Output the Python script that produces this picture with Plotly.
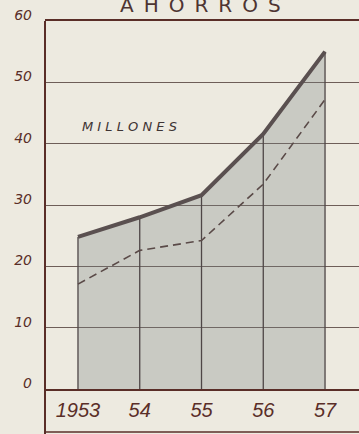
"""Ahorros 1953-57 (millones), recreated with Plotly."""

import plotly.graph_objects as go

YEARS = [1953, 1954, 1955, 1956, 1957]
YEAR_LABELS = ["1953", "54", "55", "56", "57"]
SAVINGS = [24.8, 28.0, 31.6, 41.6, 55.0]
SAVINGS_DASHED = [17.1, 22.6, 24.2, 33.4, 47.2]
Y_TICKS = [0, 10, 20, 30, 40, 50, 60]
Y_LABELS = ["0", "10", "20", "30", "40", "50", "60"]

BG = "#EDEAE0"
INK = "#5A2E28"
GRID = "#6E5E58"
LINE = "#5A5050"

fig = go.Figure()

# shaded area under the main series
fig.add_trace(go.Scatter(
    x=YEARS, y=SAVINGS, mode="lines", fill="tozeroy",
    fillcolor="rgba(118,128,130,0.30)", line={"width": 0},
    hoverinfo="skip",
))

# vertical drop lines at each year
vx, vy = [], []
for x, v in zip(YEARS, SAVINGS):
    vx += [x, x, None]
    vy += [0, v, None]
fig.add_trace(go.Scatter(
    x=vx, y=vy, mode="lines", line={"color": "#4E4646", "width": 1.3},
    hoverinfo="skip",
))

fig.add_trace(go.Scatter(
    x=YEARS, y=SAVINGS_DASHED, mode="lines",
    line={"color": "#5A4A48", "width": 1.6, "dash": "8px,5px"},
))
fig.add_trace(go.Scatter(
    x=YEARS, y=SAVINGS, mode="lines",
    line={"color": LINE, "width": 4},
))

fig.update_layout(
    width=359,
    height=434,
    margin={"l": 45, "r": 0, "t": 21, "b": 45, "autoexpand": False},
    paper_bgcolor=BG,
    plot_bgcolor=BG,
    showlegend=False,
    font={"family": "Liberation Sans", "color": INK},
)

fig.update_xaxes(
    range=[1952.466, 1957.55],
    tickvals=YEARS,
    ticktext=YEAR_LABELS,
    tickfont={"family": "Liberation Sans Narrow, Liberation Sans", "size": 20,
              "style": "italic", "color": INK},
    ticks="",
    ticklabelstandoff=2,
    automargin=False,
    showgrid=False,
    zeroline=False,
    showline=True,
    mirror=True,
    linecolor=INK,
    linewidth=2,
)
fig.update_yaxes(
    range=[0, 60],
    tickvals=Y_TICKS,
    ticktext=Y_LABELS,
    tickfont={"family": "DejaVu Sans", "size": 14, "style": "italic", "color": INK},
    ticks="",
    ticklabelstandoff=12,
    ticklabelshift=-6,
    automargin=False,
    showgrid=True,
    gridcolor=GRID,
    gridwidth=1,
    zeroline=False,
    showline=False,
)

# left frame line runs down past the axis, plus the bottom rule of the label band
fig.add_shape(type="line", xref="paper", yref="paper", x0=0, x1=0,
              y0=-45 / 368, y1=1, line={"color": INK, "width": 2})
fig.add_shape(type="line", xref="paper", yref="paper", x0=0, x1=1,
              y0=-43 / 368, y1=-43 / 368, line={"color": INK, "width": 1.5})

fig.add_annotation(
    text="A\u2002H\u2002O\u2002R\u2002R\u2002O\u2002S",
    xref="paper", yref="paper", x=(200 - 45) / 314, y=(389 - 5) / 368,
    xanchor="center", yanchor="middle", showarrow=False,
    font={"family": "DejaVu Sans", "size": 20, "color": "#4E3432"},
)
fig.add_annotation(
    text="M I L L O N E S",
    xref="paper", yref="paper", x=(80 - 45) / 314, y=(389 - 127) / 368,
    xanchor="left", yanchor="middle", showarrow=False,
    font={"family": "DejaVu Sans", "size": 13, "style": "italic", "color": "#3E3434"},
)

fig.write_html(
    "out.html",
    config={"displayModeBar": False},
    post_script="document.body.style.margin='0';document.body.style.overflow='hidden';",
)
